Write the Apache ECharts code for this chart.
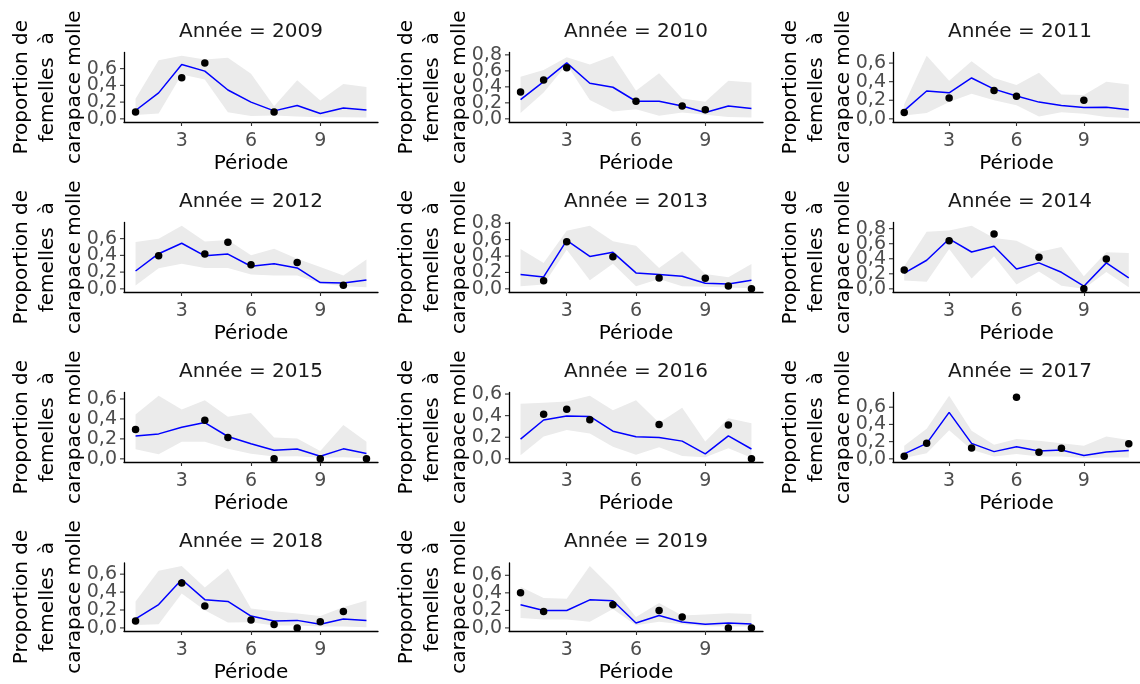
<!DOCTYPE html>
<html>
<head>
<meta charset="utf-8">
<script src="https://cdn.jsdelivr.net/npm/echarts@6/dist/echarts.min.js"></script>
<style>
  html, body { margin: 0; padding: 0; background: #fff; }
  #chart { width: 1140px; height: 684px; }
</style>
</head>
<body>
<div id="chart"></div>
<script>
// Périodes d'échantillonnage (axe x commun)
const periodes = [1, 2, 3, 4, 5, 6, 7, 8, 9, 10, 11];
const periodeTicks = [3, 6, 9];
const annees = [2009, 2010, 2011, 2012, 2013, 2014, 2015, 2016, 2017, 2018, 2019];

// Proportion ajustée (ligne), bornes de l'intervalle (ruban) et observations (points)
const ajuste2009 = [0.10, 0.31, 0.65, 0.57, 0.345, 0.20, 0.095, 0.16, 0.063, 0.13, 0.105];
const bas2009    = [0.047, 0.063, 0.53, 0.47, 0.08, 0.035, 0.04, 0.027, 0.02, 0.02, 0.015];
const haut2009   = [0.24, 0.70, 0.755, 0.71, 0.73, 0.54, 0.15, 0.46, 0.22, 0.415, 0.38];
const obsPer2009 = [1, 3, 4, 7];
const obsVal2009 = [0.082, 0.49, 0.667, 0.082];

const ajuste2010 = [0.24, 0.465, 0.70, 0.445, 0.395, 0.22, 0.22, 0.16, 0.08, 0.16, 0.13];
const bas2010    = [0.073, 0.33, 0.68, 0.235, 0.093, 0.12, 0.04, 0.08, 0.052, 0.024, 0.016];
const haut2010   = [0.525, 0.61, 0.77, 0.68, 0.79, 0.35, 0.57, 0.255, 0.215, 0.475, 0.455];
const obsPer2010 = [1, 2, 3, 6, 8, 9];
const obsVal2010 = [0.335, 0.485, 0.64, 0.22, 0.16, 0.113];

const ajuste2011 = [0.088, 0.30, 0.28, 0.44, 0.32, 0.245, 0.18, 0.144, 0.123, 0.126, 0.098];
const bas2011    = [0.035, 0.063, 0.18, 0.27, 0.20, 0.147, 0.025, 0.07, 0.056, 0.02, 0.01];
const haut2011   = [0.158, 0.68, 0.41, 0.62, 0.44, 0.365, 0.495, 0.263, 0.256, 0.40, 0.37];
const obsPer2011 = [1, 3, 5, 6, 9];
const obsVal2011 = [0.067, 0.225, 0.305, 0.242, 0.20];

const ajuste2012 = [0.213, 0.42, 0.545, 0.395, 0.415, 0.27, 0.30, 0.25, 0.075, 0.07, 0.107];
const bas2012    = [0.04, 0.245, 0.30, 0.25, 0.25, 0.17, 0.158, 0.158, 0.067, 0.03, 0.02];
const haut2012   = [0.56, 0.60, 0.755, 0.565, 0.585, 0.40, 0.48, 0.36, 0.26, 0.158, 0.35];
const obsPer2012 = [2, 4, 5, 6, 8, 10];
const obsVal2012 = [0.395, 0.415, 0.557, 0.288, 0.316, 0.043];

const ajuste2013 = [0.174, 0.145, 0.59, 0.395, 0.445, 0.194, 0.174, 0.153, 0.069, 0.06, 0.105];
const bas2013    = [0.032, 0.052, 0.477, 0.105, 0.307, 0.032, 0.12, 0.032, 0.024, 0.016, 0.008];
const haut2013   = [0.485, 0.315, 0.707, 0.77, 0.58, 0.525, 0.255, 0.457, 0.182, 0.141, 0.303];
const obsPer2013 = [2, 3, 5, 7, 9, 10, 11];
const obsVal2013 = [0.10, 0.574, 0.39, 0.133, 0.13, 0.036, 0.0];

const ajuste2014 = [0.21, 0.38, 0.663, 0.49, 0.566, 0.265, 0.345, 0.22, 0.035, 0.345, 0.146];
const bas2014    = [0.11, 0.093, 0.53, 0.137, 0.433, 0.057, 0.23, 0.04, 0.0, 0.225, 0.022];
const haut2014   = [0.30, 0.76, 0.774, 0.84, 0.676, 0.64, 0.49, 0.557, 0.168, 0.486, 0.477];
const obsPer2014 = [1, 3, 5, 7, 9, 10];
const obsVal2014 = [0.252, 0.641, 0.73, 0.42, 0.0, 0.398];

const ajuste2015 = [0.23, 0.25, 0.316, 0.363, 0.224, 0.152, 0.086, 0.099, 0.026, 0.10, 0.053];
const bas2015    = [0.096, 0.046, 0.17, 0.17, 0.10, 0.05, 0.023, 0.026, 0.01, 0.016, 0.007];
const haut2015   = [0.445, 0.633, 0.495, 0.587, 0.422, 0.46, 0.214, 0.204, 0.079, 0.34, 0.17];
const obsPer2015 = [1, 4, 5, 7, 9, 11];
const obsVal2015 = [0.293, 0.386, 0.214, 0.0, 0.0, 0.0];

const ajuste2016 = [0.183, 0.36, 0.396, 0.393, 0.256, 0.204, 0.198, 0.164, 0.046, 0.213, 0.091];
const bas2016    = [0.034, 0.207, 0.268, 0.235, 0.113, 0.037, 0.107, 0.027, 0.015, 0.097, 0.009];
const haut2016   = [0.51, 0.52, 0.53, 0.585, 0.45, 0.542, 0.335, 0.472, 0.16, 0.375, 0.33];
const obsPer2016 = [2, 3, 4, 7, 10, 11];
const obsVal2016 = [0.414, 0.46, 0.362, 0.317, 0.314, 0.0];

const ajuste2017 = [0.057, 0.18, 0.54, 0.18, 0.084, 0.141, 0.092, 0.103, 0.038, 0.08, 0.096];
const bas2017    = [0.011, 0.065, 0.332, 0.107, 0.027, 0.057, 0.027, 0.027, 0.011, 0.015, 0.015];
const haut2017   = [0.153, 0.35, 0.734, 0.325, 0.164, 0.23, 0.21, 0.18, 0.153, 0.26, 0.22];
const obsPer2017 = [1, 2, 4, 6, 7, 8, 11];
const obsVal2017 = [0.03, 0.18, 0.126, 0.715, 0.076, 0.122, 0.176];

const ajuste2018 = [0.102, 0.26, 0.54, 0.315, 0.296, 0.132, 0.077, 0.084, 0.04, 0.099, 0.084];
const bas2018    = [0.033, 0.04, 0.384, 0.198, 0.059, 0.062, 0.026, 0.026, 0.015, 0.015, 0.007];
const haut2018   = [0.296, 0.637, 0.69, 0.45, 0.662, 0.216, 0.187, 0.161, 0.132, 0.23, 0.307];
const obsPer2018 = [1, 3, 4, 6, 7, 8, 9, 10];
const obsVal2018 = [0.077, 0.50, 0.245, 0.088, 0.037, 0.0, 0.07, 0.183];

const ajuste2019 = [0.265, 0.198, 0.198, 0.32, 0.31, 0.056, 0.142, 0.067, 0.041, 0.056, 0.045];
const bas2019    = [0.112, 0.097, 0.097, 0.071, 0.216, 0.03, 0.071, 0.041, 0.019, 0.015, 0.015];
const haut2019   = [0.47, 0.34, 0.332, 0.705, 0.444, 0.123, 0.283, 0.142, 0.153, 0.168, 0.16];
const obsPer2019 = [1, 2, 5, 7, 8, 10, 11];
const obsVal2019 = [0.40, 0.186, 0.265, 0.198, 0.123, 0.0, 0.0];

const panneaux = [
  [ajuste2009, bas2009, haut2009, obsPer2009, obsVal2009],
  [ajuste2010, bas2010, haut2010, obsPer2010, obsVal2010],
  [ajuste2011, bas2011, haut2011, obsPer2011, obsVal2011],
  [ajuste2012, bas2012, haut2012, obsPer2012, obsVal2012],
  [ajuste2013, bas2013, haut2013, obsPer2013, obsVal2013],
  [ajuste2014, bas2014, haut2014, obsPer2014, obsVal2014],
  [ajuste2015, bas2015, haut2015, obsPer2015, obsVal2015],
  [ajuste2016, bas2016, haut2016, obsPer2016, obsVal2016],
  [ajuste2017, bas2017, haut2017, obsPer2017, obsVal2017],
  [ajuste2018, bas2018, haut2018, obsPer2018, obsVal2018],
  [ajuste2019, bas2019, haut2019, obsPer2019, obsVal2019]
];

// Disposition en grille 3 colonnes x 4 rangées
const FONT = '"DejaVu Sans", sans-serif';
const colLeft = [124, 509, 893];
const rowTop = [52.5, 222.5, 392.5, 563];
const panelW = 254;
const panelH = 69.5;
const X_MIN = 0.5, X_MAX = 11.5;

const grids = [], xAxes = [], yAxes = [], series = [], graphics = [];
const virgule = v => v.toFixed(1).replace('.', ',');

// Ruban dessiné comme un polygone : borne haute puis borne basse en sens inverse
function ruban(lo, hi) {
  return function (params, api) {
    if (params.dataIndex !== 0) return null;
    const pts = [];
    for (let k = 0; k < periodes.length; k++) pts.push(api.coord([periodes[k], hi[k]]));
    for (let k = periodes.length - 1; k >= 0; k--) pts.push(api.coord([periodes[k], lo[k]]));
    return { type: 'polygon', shape: { points: pts }, style: { fill: '#EBEBEB' }, silent: true };
  };
}

panneaux.forEach((p, i) => {
  const [fit, lo, hi, oPer, oVal] = p;
  const col = i % 3, row = Math.floor(i / 3);
  const left = colLeft[col], top = rowTop[row];

  grids.push({ left: left, top: top, width: panelW, height: panelH, containLabel: false });

  // Échelle y libre avec 5 % d'expansion de chaque côté
  const tous = [].concat(fit, lo, hi, oVal);
  const ymin = Math.min(0, ...tous), ymax = Math.max(...tous);
  const ext = (ymax - ymin) * 0.05;
  const yTicks = [];
  for (let k = 0; k * 0.2 <= ymax + ext + 1e-9; k++) yTicks.push(+(k * 0.2).toFixed(1));

  xAxes.push({
    type: 'value', gridIndex: i, min: X_MIN, max: X_MAX,
    name: 'Période', nameLocation: 'middle', nameGap: 32, nameMoveOverlap: false,
    nameTextStyle: { fontSize: 20, color: '#000', fontFamily: FONT, lineHeight: 20 },
    axisLine: { show: true, onZero: false, lineStyle: { color: '#000', width: 1.3 } },
    axisTick: { show: true, length: 4, customValues: periodeTicks, lineStyle: { color: '#333', width: 1.1 } },
    axisLabel: { customValues: periodeTicks, fontSize: 19, color: '#4D4D4D', fontFamily: FONT, margin: 10, lineHeight: 19 },
    splitLine: { show: false }
  });

  yAxes.push({
    type: 'value', gridIndex: i, min: ymin - ext, max: ymax + ext,
    name: 'Proportion de\nfemelles  à\ncarapace molle', nameLocation: 'middle', nameRotate: 90,
    nameGap: 36, nameMoveOverlap: false,
    nameTextStyle: { fontSize: 20, color: '#000', fontFamily: FONT, lineHeight: 26.5, align: 'center' },
    axisLine: { show: true, onZero: false, lineStyle: { color: '#000', width: 1.3 } },
    axisTick: { show: false },
    axisLabel: { show: false },
    splitLine: { show: false }
  });

  // Graduations de l'axe y (repères + étiquettes, toutes affichées même serrées)
  series.push({
    type: 'scatter', xAxisIndex: i, yAxisIndex: i, silent: true, clip: false, z: 5,
    symbol: 'rect', symbolSize: [4, 1.1], symbolOffset: [-2, 0],
    itemStyle: { color: '#333', opacity: 1 },
    label: {
      show: true, position: 'left', distance: 3,
      formatter: q => virgule(q.value[1]),
      fontSize: 19, color: '#4D4D4D', fontFamily: FONT
    },
    labelLayout: { hideOverlap: false },
    data: yTicks.map(v => [X_MIN, v])
  });

  series.push({
    type: 'custom', xAxisIndex: i, yAxisIndex: i, silent: true, z: 1,
    renderItem: ruban(lo, hi),
    data: periodes.map((x, k) => [x, lo[k], hi[k]])
  });
  // Valeurs ajustées
  series.push({
    type: 'line', xAxisIndex: i, yAxisIndex: i, silent: true, symbol: 'none', z: 3,
    lineStyle: { color: '#0000FF', width: 1.5 },
    data: periodes.map((x, k) => [x, fit[k]])
  });
  // Observations
  series.push({
    type: 'scatter', xAxisIndex: i, yAxisIndex: i, silent: true, z: 4,
    symbolSize: 7.5, itemStyle: { color: '#000', opacity: 1 },
    data: oPer.map((x, k) => [x, oVal[k]])
  });

  graphics.push({
    type: 'text', x: left + panelW / 2, y: top - 21,
    style: {
      text: 'Année = ' + annees[i], fill: '#1A1A1A', fontSize: 20, fontFamily: FONT,
      textAlign: 'center', textVerticalAlign: 'middle', align: 'center', verticalAlign: 'middle'
    }
  });
});

const chart = echarts.init(document.getElementById('chart'), null, { renderer: 'canvas' });
chart.setOption({
  animation: false,
  backgroundColor: '#fff',
  textStyle: { fontFamily: FONT },
  grid: grids,
  xAxis: xAxes,
  yAxis: yAxes,
  series: series,
  graphic: graphics
});
</script>
</body>
</html>
